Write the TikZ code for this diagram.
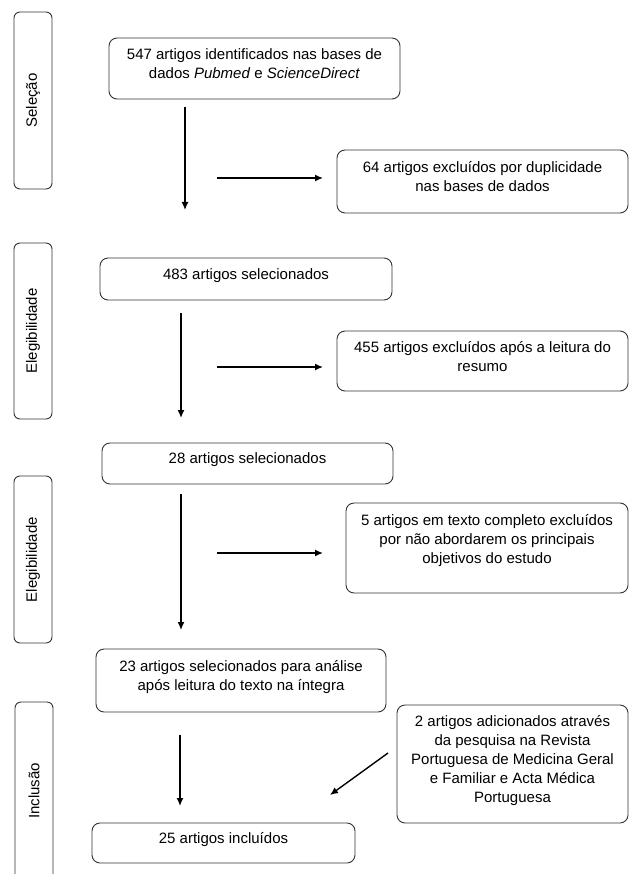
\documentclass[tikz,border=0pt]{standalone}
\usepackage{fontspec}
\setmainfont{Liberation Sans}
\usetikzlibrary{arrows.meta}

\begin{document}
\begin{tikzpicture}[x=1pt,y=-1pt,
    font=\fontsize{15}{19}\selectfont,
    caixa/.style={draw=black!80,line width=0.9pt,rounded corners=8pt,align=center,text depth=10pt},
    fase/.style={draw=black!80,line width=0.9pt,rounded corners=6pt,rotate=90,minimum height=38pt,inner sep=0pt},
    seta/.style={-{Latex[length=8pt,width=7pt]},line width=1.4pt}]
  \useasboundingbox (0,0) rectangle (629,874);
  % fases
  \node[fase,minimum width=177pt] (selecao) at (33,100.5) {Seleção};
  \node[fase,minimum width=176pt] (eleg1) at (33,331) {Elegibilidade};
  \node[fase,minimum width=167pt] (eleg2) at (33,559.5) {Elegibilidade};
  \node[fase,minimum width=178pt] (inclusao) at (34,791) {Inclusão};
  % caixas
  \node[caixa,minimum width=291pt,minimum height=61pt] (n547) at (254.5,68.5) {547 artigos identificados nas bases de\\dados \textit{Pubmed} e \textit{ScienceDirect}};
  \node[caixa,minimum width=291pt,minimum height=63pt] (n64) at (482.5,181.5) {64 artigos excluídos por duplicidade\\nas bases de dados};
  \node[caixa,minimum width=292pt,minimum height=42pt] (n483) at (246,279) {483 artigos selecionados};
  \node[caixa,minimum width=291pt,minimum height=60pt] (n455) at (482.5,361) {455 artigos excluídos após a leitura do\\resumo};
  \node[caixa,minimum width=291pt,minimum height=41pt] (n28) at (247.5,463.5) {28 artigos selecionados};
  \node[caixa,minimum width=282pt,minimum height=90pt,text depth=18pt] (n5) at (487,548) {5 artigos em texto completo excluídos\\por não abordarem os principais\\objetivos do estudo};
  \node[caixa,minimum width=290pt,minimum height=63pt] (n23) at (241,680.5) {23 artigos selecionados para análise\\após leitura do texto na íntegra};
  \node[caixa,minimum width=231pt,minimum height=118pt] (n2) at (512.5,764) {2 artigos adicionados através\\da pesquisa na Revista\\Portuguesa de Medicina Geral\\e Familiar e Acta Médica\\Portuguesa};
  \node[caixa,minimum width=263pt,minimum height=40pt] (n25) at (223.5,843) {25 artigos incluídos};
  % setas
  \coordinate (d1a) at (185,107); \coordinate (d1b) at (185,210);
  \coordinate (e1a) at (217,178); \coordinate (e1b) at (323,178);
  \coordinate (d2a) at (181,313); \coordinate (d2b) at (181,418);
  \coordinate (e2a) at (217,367); \coordinate (e2b) at (323,367);
  \coordinate (d3a) at (181,494); \coordinate (d3b) at (181,630);
  \coordinate (e3a) at (217,553); \coordinate (e3b) at (323,553);
  \coordinate (d4a) at (180,735); \coordinate (d4b) at (180,806);
  \coordinate (g1a) at (388,753); \coordinate (g1b) at (330,795);
  \draw[seta] (d1a) -- (d1b);
  \draw[seta] (e1a) -- (e1b);
  \draw[seta] (d2a) -- (d2b);
  \draw[seta] (e2a) -- (e2b);
  \draw[seta] (d3a) -- (d3b);
  \draw[seta] (e3a) -- (e3b);
  \draw[seta] (d4a) -- (d4b);
  \draw[seta] (g1a) -- (g1b);
\end{tikzpicture}
\end{document}
